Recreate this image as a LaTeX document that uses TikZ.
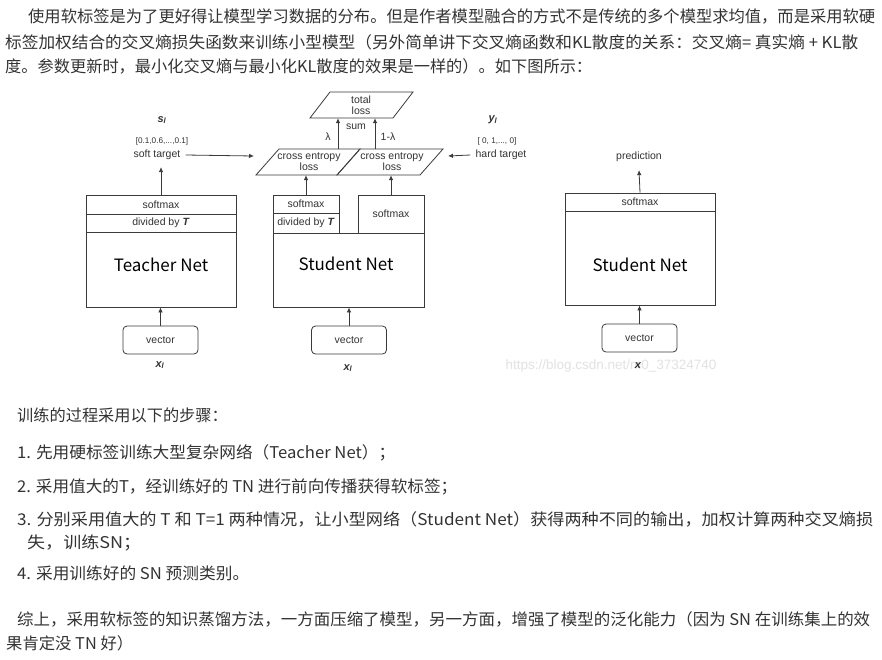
\documentclass[tikz,border=0pt]{standalone}
\usepackage{fontspec}
\setmainfont{Liberation Sans}
\newfontfamily\cjk{Noto Sans CJK SC}
\usetikzlibrary{arrows.meta}
\definecolor{txt}{HTML}{333333}
\definecolor{ln}{HTML}{3a3a3a}
\definecolor{wm}{HTML}{E2E2E2}
\newcommand{\fitline}[2]{\resizebox{#1pt}{\height}{#2}}
\begin{document}
\begin{tikzpicture}[x=1pt,y=-1pt,
  lbl/.style={inner sep=0pt, font=\fontsize{10.5}{12}\selectfont, text=txt, align=center},
  small/.style={inner sep=0pt, font=\fontsize{8.2}{9}\selectfont, text=txt},
  var/.style={inner sep=0pt, font=\fontsize{11}{12}\selectfont\bfseries\itshape, text=txt},
  box/.style={draw=ln, line width=0.8pt, inner sep=0pt, font=\fontsize{10.5}{12}\selectfont, text=txt},
  netlbl/.style={inner sep=0pt, font=\cjk\fontsize{17}{20}\selectfont, text=black},
  vec/.style={box, rounded corners=4pt, minimum width=75, minimum height=28},
  shp/.style={draw=ln, line width=0.8pt},
  arr/.style={draw=ln, line width=0.8pt, -{Latex[length=5pt,width=4.5pt]}},
  para/.style={anchor=west, inner sep=0pt, font=\cjk\fontsize{16.2}{18}\selectfont, text=txt}]
\useasboundingbox[fill=white] (0,0) rectangle (882,659);

% ---------- top paragraph ----------
\node[para] (p1) at (28,16) {\fitline{847}{使用软标签是为了更好得让模型学习数据的分布。但是作者模型融合的方式不是传统的多个模型求均值，而是采用软硬}};
\node[para] (p2) at (5,42) {\fitline{853}{标签加权结合的交叉熵损失函数来训练小型模型（另外简单讲下交叉熵函数和KL散度的关系：交叉熵= 真实熵 + KL散}};
\node[para] (p3) at (5,66) {\fitline{587}{度。参数更新时，最小化交叉熵与最小化KL散度的效果是一样的）。如下图所示：}};

% ---------- watermark ----------
\node[inner sep=0pt, font=\fontsize{13.5}{15}\selectfont, text=wm] (wmk) at (611,366) {https://blog.csdn.net/m0\_37324740};

% ---------- teacher ----------
\node[box, minimum width=150, minimum height=19] (tsoft) at (161,204.5) {softmax};
\node[box, minimum width=150, minimum height=18] (tdiv) at (161,223) {divided by \textbf{\textit{T}}};
\node[box, minimum width=150, minimum height=75] (tnet) at (161,269.5) {};
\node[netlbl] (tnetl) at (161,265) {Teacher Net};
\node[vec] (tvec) at (160.5,340) {vector};
\node[var] (txl) at (160,365) {x\textsubscript{l}};
\draw[arr] (tvec.north) -- (tvec.north |- tnet.south);

\node[var] (sl) at (162,120) {s\textsubscript{l}};
\node[small] (sv) at (162,141) {[0.1,0.6,...,0.1]};
\node[lbl] (st) at (157,155) {soft target};
\draw[arr] (tsoft.north) -- ([yshift=-7pt]tsoft.north |- st.south);

% ---------- student (training) ----------
\node[box, minimum width=66, minimum height=18] (ss1) at (306,204) {softmax};
\node[box, minimum width=66, minimum height=20] (sdiv) at (306,223) {divided by \textbf{\textit{T}}};
\node[box, minimum width=66, minimum height=38] (ss2) at (391,214) {softmax};
\node[box, minimum width=151, minimum height=74] (snet) at (348.5,270) {};
\node[netlbl] (snetl) at (346,264) {Student Net};
\node[vec] (svec) at (349,340) {vector};
\node[var] (sxl) at (348,368) {x\textsubscript{l}};
\draw[arr] (svec.north) -- (svec.north |- snet.south);

% cross entropy parallelograms
\draw[shp] (256,175) -- (279,149) -- (360,149) -- (337,175) -- cycle;
\draw[shp] (337,175) -- (360,149) -- (443,149) -- (420,175) -- cycle;
\node[lbl, minimum height=26] (ce1) at (309,162) {cross entropy\\[-1pt]loss};
\node[lbl, minimum height=26] (ce2) at (392,162) {cross entropy\\[-1pt]loss};
\draw[arr] (ss1.north) -- (ss1.north |- ce1.south);
\draw[arr] (ss2.north) -- (ss2.north |- ce2.south);

% total loss
\draw[shp] (310,118) -- (330,92) -- (413,92) -- (393,118) -- cycle;
\node[lbl, minimum height=26] (tl) at (361,105) {total\\[-1pt]loss};
\draw[arr] ([xshift=29pt]ce1.north) -- ([xshift=29pt]ce1.north |- tl.south);
\draw[arr] ([xshift=-17pt]ce2.north) -- ([xshift=-17pt]ce2.north |- tl.south);
\node[lbl] (lam) at (328,137) {λ};
\node[lbl] (sum) at (356,127) {sum};
\node[lbl] (lam2) at (388,137) {1-λ};

% hard target
\node[var] (yl) at (493,120) {y\textsubscript{l}};
\node[small] (yv) at (497,141) {[ 0,\ 1,..., 0]};
\node[lbl] (ht) at (501,155) {hard target};
\coordinate (stend) at (254,156);
\coordinate (htend) at (448,156);
\draw[arr] ([xshift=5pt]st.east) -- (stend);
\draw[arr] ([xshift=-5pt]ht.west) -- (htend);

% ---------- student (prediction) ----------
\node[box, minimum width=150, minimum height=18] (psoft) at (640,202) {softmax};
\node[box, minimum width=150, minimum height=94] (pnet) at (640,258) {};
\node[netlbl] (pnetl) at (640,265) {Student Net};
\node[vec] (pvec) at (639.5,338) {vector};
\node[var] (px) at (638,366) {x};
\node[lbl] (pred) at (639,157) {prediction};
\draw[arr] (pvec.north) -- (pvec.north |- pnet.south);
\draw[arr] (psoft.north) -- ([yshift=-8pt]pred.south);

% ---------- lower text ----------
\node[para] (q0) at (17,415) {训练的过程采用以下的步骤：};
\node[para] (q1) at (17,453) {\fitline{378}{1. 先用硬标签训练大型复杂网络（Teacher Net）；}};
\node[para] (q2) at (17,487) {\fitline{440}{2. 采用值大的T，经训练好的 TN 进行前向传播获得软标签；}};
\node[para] (q3) at (17,519) {\fitline{856}{3. 分别采用值大的 T 和 T=1 两种情况，让小型网络（Student Net）获得两种不同的输出，加权计算两种交叉熵损}};
\node[para] (q3b) at (27,543) {\fitline{114}{失，训练SN；}};
\node[para] (q4) at (17,573) {\fitline{232}{4. 采用训练好的 SN 预测类别。}};
\node[para] (q5) at (17,619) {\fitline{853}{综上，采用软标签的知识蒸馏方法，一方面压缩了模型，另一方面，增强了模型的泛化能力（因为 SN 在训练集上的效}};
\node[para] (q6) at (6,643) {\fitline{127}{果肯定没 TN 好）}};
\end{tikzpicture}
\end{document}
